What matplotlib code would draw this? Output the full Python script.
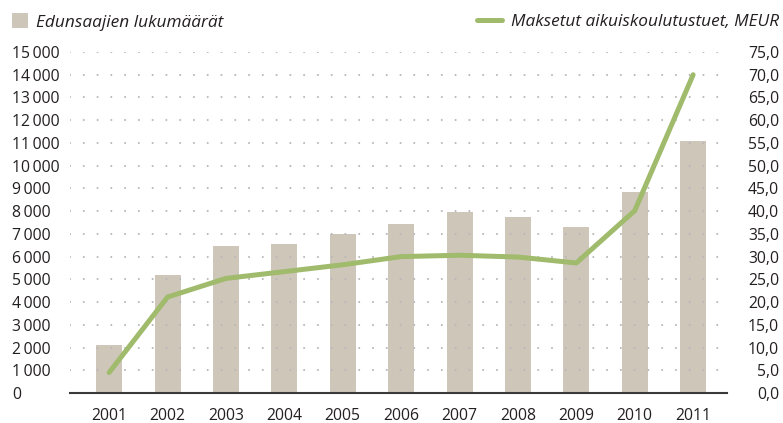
import matplotlib
matplotlib.use("Agg")
import matplotlib.pyplot as plt
from matplotlib.ticker import FuncFormatter, MultipleLocator

# data
vuodet = ["2001", "2002", "2003", "2004", "2005", "2006",
          "2007", "2008", "2009", "2010", "2011"]
edunsaajat = [2100, 5200, 6450, 6550, 7000, 7450, 7980, 7750, 7300, 8850, 11100]
tuet_meur = [4.5, 21.1, 25.2, 26.7, 28.2, 30.0, 30.3, 29.9, 28.6, 40.1, 70.0]

nimi_palkit = "Edunsaajien lukumäärät"
nimi_viiva = "Maksetut aikuiskoulutustuet, MEUR"

BEIGE = "#cfc6ba"
VIHREA = "#9fbb6b"
TEKSTI = "#231f20"

plt.rcParams["font.family"] = ["Open Sans", "DejaVu Sans"]
plt.rcParams["text.color"] = TEKSTI

fig = plt.figure(figsize=(7.83, 4.23), dpi=100)
ax = fig.add_axes([70 / 783, 30 / 423, 657 / 783, 341 / 423])
ax2 = ax.twinx()

x = list(range(len(vuodet)))
palkit = ax.bar(x, edunsaajat, width=0.445, color=BEIGE, zorder=1, label=nimi_palkit)
viiva, = ax2.plot(x, tuet_meur, color=VIHREA, lw=3.6, solid_joinstyle="round",
                  solid_capstyle="round", label=nimi_viiva)

ax.set_xlim(-0.67, 10.58)
ax.set_ylim(0, 15000)
ax2.set_ylim(0, 75)
ax.yaxis.set_major_locator(MultipleLocator(1000))
ax2.yaxis.set_major_locator(MultipleLocator(5))

ax.yaxis.set_major_formatter(FuncFormatter(lambda v, p: f"{int(v):,}".replace(",", "\u2009")))
ax2.yaxis.set_major_formatter(FuncFormatter(lambda v, p: f"{v:.1f}".replace(".", ",")))

ax.set_xticks(x)
ax.set_xticklabels(vuodet)

# dotted grid over the bars
ax.set_axisbelow("line")
ax.grid(axis="y", color="#b8b8b8", lw=1.5, linestyle=(0, (0.01, 6.6)),
        dash_capstyle="round")
ax.grid(axis="x", visible=False)

for a in (ax, ax2):
    for s in ("top", "left", "right", "bottom"):
        a.spines[s].set_visible(False)
    a.tick_params(length=0, labelsize=11.3, colors=TEKSTI)
ax.spines["bottom"].set_visible(True)
ax.spines["bottom"].set_color("#3a3a3a")
ax.spines["bottom"].set_linewidth(1.5)

ax.tick_params(axis="x", pad=10.5)
ax.tick_params(axis="y", pad=41.8)
for t in ax.get_yticklabels():
    t.set_horizontalalignment("left")
ax2.tick_params(axis="y", pad=37.4)
for t in ax2.get_yticklabels():
    t.set_horizontalalignment("right")

fig.legend(handles=[palkit], loc="center left", bbox_to_anchor=(12 / 783, 1 - 22 / 423),
           frameon=False, borderpad=0, borderaxespad=0, handlelength=0.95,
           handleheight=0.95, handletextpad=0.45,
           prop={"style": "italic", "size": 12.4})
fig.legend(handles=[viiva], loc="center right", bbox_to_anchor=(779 / 783, 1 - 22 / 423),
           frameon=False, borderpad=0, borderaxespad=0, handlelength=1.45,
           handletextpad=0.5, prop={"style": "italic", "size": 12.4})

fig.savefig("out.png", dpi=100)
